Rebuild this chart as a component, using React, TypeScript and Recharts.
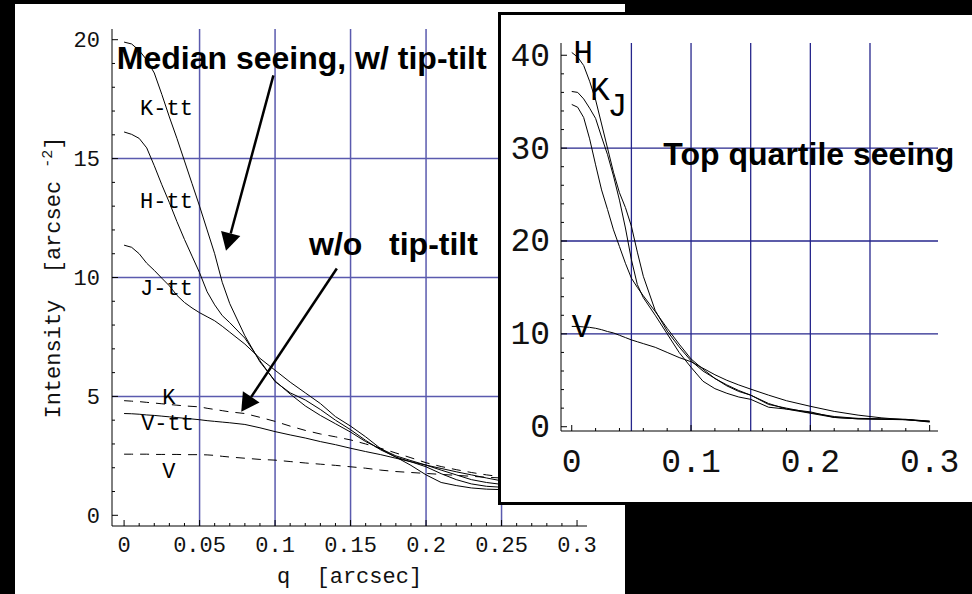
import React from "react";
import { LineChart, Line, XAxis, YAxis, ReferenceLine, ReferenceDot } from "recharts";

// ---- median seeing panel (left) ----
const qMed = [0, 0.005, 0.01, 0.015, 0.02, 0.025, 0.03, 0.035, 0.04, 0.045, 0.05, 0.055, 0.06, 0.065, 0.07, 0.08, 0.09, 0.1, 0.11, 0.12, 0.13, 0.14, 0.15, 0.16, 0.17, 0.18, 0.19, 0.2, 0.21, 0.22, 0.23, 0.24, 0.25, 0.27, 0.3];
const kTipTilt = [19.9, 19.82, 19.55, 19.15, 18.6, 17.7, 16.75, 15.85, 14.9, 13.95, 13.0, 12.0, 11.0, 9.8, 8.9, 7.55, 6.45, 5.65, 5.1, 4.6, 4.2, 3.85, 3.5, 3.1, 2.78, 2.45, 2.1, 1.7, 1.38, 1.25, 1.15, 1.1, 1.08, 1.0, 0.9];
const hTipTilt = [16.12, 16.02, 15.85, 15.45, 14.7, 13.9, 13.15, 12.35, 11.6, 10.9, 10.2, 9.4, 8.85, 8.4, 8.1, 7.45, 6.5, 5.62, 5.15, 4.85, 4.45, 4.0, 3.6, 3.15, 2.75, 2.45, 2.25, 2.04, 1.75, 1.5, 1.32, 1.22, 1.18, 1.1, 1.0];
const jTipTilt = [11.36, 11.27, 11.0, 10.6, 10.3, 9.97, 9.65, 9.25, 8.95, 8.72, 8.52, 8.35, 8.18, 7.95, 7.7, 7.2, 6.6, 6.1, 5.6, 5.15, 4.7, 4.15, 3.75, 3.3, 2.8, 2.5, 2.3, 2.11, 1.9, 1.7, 1.5, 1.38, 1.3, 1.2, 1.1];
const vTipTilt = [4.28, 4.27, 4.25, 4.22, 4.2, 4.17, 4.14, 4.11, 4.08, 4.05, 4.02, 3.98, 3.95, 3.92, 3.89, 3.82, 3.68, 3.52, 3.38, 3.25, 3.1, 2.97, 2.82, 2.68, 2.55, 2.4, 2.25, 2.11, 1.97, 1.83, 1.7, 1.57, 1.45, 1.3, 1.15];
const kNoTipTilt = [4.82, 4.8, 4.78, 4.75, 4.72, 4.69, 4.66, 4.63, 4.6, 4.58, 4.56, 4.5, 4.45, 4.4, 4.35, 4.28, 4.12, 3.95, 3.75, 3.57, 3.42, 3.3, 3.17, 3.0, 2.82, 2.62, 2.42, 2.21, 2.05, 1.92, 1.8, 1.7, 1.62, 1.5, 1.35];
const vNoTipTilt = [2.57, 2.57, 2.57, 2.57, 2.56, 2.56, 2.56, 2.56, 2.55, 2.55, 2.55, 2.54, 2.52, 2.48, 2.45, 2.4, 2.35, 2.32, 2.26, 2.2, 2.15, 2.1, 2.04, 1.98, 1.9, 1.84, 1.8, 1.76, 1.72, 1.68, 1.64, 1.6, 1.57, 1.5, 1.4];

const medXTicks = [0, 0.05, 0.1, 0.15, 0.2, 0.25, 0.3];
const medXMinor = [0, 0.01, 0.02, 0.03, 0.04, 0.05, 0.06, 0.07, 0.08, 0.09, 0.1, 0.11, 0.12, 0.13, 0.14, 0.15, 0.16, 0.17, 0.18, 0.19, 0.2, 0.21, 0.22, 0.23, 0.24, 0.25, 0.26, 0.27, 0.28, 0.29, 0.3];
const medYTicks = [0, 5, 10, 15, 20];
const medYMinor = [0, 1, 2, 3, 4, 5, 6, 7, 8, 9, 10, 11, 12, 13, 14, 15, 16, 17, 18, 19, 20];
const medGridX = [0.05, 0.1, 0.15, 0.2, 0.25];
const medGridY = [5, 10, 15];

// curve labels, anchored at [q, intensity]
const medTags = [
  { text: "K-tt", q: 0.0106, v: 16.82 },
  { text: "H-tt", q: 0.0106, v: 12.91 },
  { text: "J-tt", q: 0.0106, v: 9.26 },
  { text: "K", q: 0.0252, v: 4.66 },
  { text: "V-tt", q: 0.0113, v: 3.58 },
  { text: "V", q: 0.0252, v: 1.55 },
];

// ---- top quartile seeing panel (inset) ----
const qTop = [0, 0.005, 0.01, 0.015, 0.02, 0.025, 0.03, 0.035, 0.04, 0.045, 0.05, 0.055, 0.06, 0.07, 0.08, 0.09, 0.1, 0.11, 0.12, 0.13, 0.14, 0.15, 0.165, 0.18, 0.2, 0.22, 0.24, 0.26, 0.28, 0.3];
const hTop = [40.3, 39.8, 38.9, 37.2, 35.2, 32.6, 30.0, 27.4, 25.2, 23.6, 21.6, 18.8, 16.2, 12.5, 10.3, 8.6, 7.1, 6.0, 5.2, 4.5, 3.9, 3.4, 2.4, 2.0, 1.5, 1.1, 0.9, 0.85, 0.8, 0.6];
const kTop = [36.1, 36.0, 35.3, 34.3, 33.2, 31.2, 29.3, 27.0, 24.4, 21.4, 18.0, 15.3, 13.9, 12.0, 10.0, 8.0, 6.4, 4.9, 4.1, 3.6, 3.2, 2.95, 2.1, 1.9, 1.6, 1.0, 0.85, 0.82, 0.78, 0.5];
const jTop = [34.7, 34.4, 33.3, 31.0, 28.2, 25.5, 23.4, 21.2, 19.4, 17.6, 16.0, 15.0, 14.1, 12.4, 10.6, 8.9, 7.3, 6.2, 5.2, 4.4, 3.8, 3.4, 2.5, 1.9, 1.45, 1.0, 0.85, 0.8, 0.75, 0.55];
const vTop = [10.8, 10.8, 10.75, 10.7, 10.6, 10.45, 10.25, 10.1, 9.85, 9.6, 9.35, 9.15, 8.95, 8.55, 8.0, 7.45, 7.0, 6.3, 5.6, 5.0, 4.5, 4.05, 3.4, 2.8, 2.2, 1.65, 1.25, 0.95, 0.75, 0.6];

const topXLabels = [0, 0.1, 0.2, 0.3];
const topXMinor = [0, 0.02, 0.04, 0.06, 0.08, 0.1, 0.12, 0.14, 0.16, 0.18, 0.2, 0.22, 0.24, 0.26, 0.28, 0.3];
const topYTicks = [0, 10, 20, 30, 40];
const topYMinor = [0, 2, 4, 6, 8, 10, 12, 14, 16, 18, 20, 22, 24, 26, 28, 30, 32, 34, 36, 38, 40];
const topGridX = [0.05, 0.1, 0.15, 0.2, 0.25];
const topGridY = [10, 20, 30];

const topTags = [
  { text: "H", q: 0.0013, v: 39.2 },
  { text: "K", q: 0.0154, v: 35.2 },
  { text: "J", q: 0.0299, v: 33.5 },
  { text: "V", q: 0.0, v: 9.69 },
];

const MONO = "'Liberation Mono', 'Courier New', monospace";
const SANS = "'Liberation Sans', Arial, Helvetica, sans-serif";

const medRows = qMed.map((q, i) => ({
  q,
  ktt: kTipTilt[i],
  htt: hTipTilt[i],
  jtt: jTipTilt[i],
  vtt: vTipTilt[i],
  k: kNoTipTilt[i],
  v: vNoTipTilt[i],
}));

const topRows = qTop.map((q, i) => ({ q, h: hTop[i], k: kTop[i], j: jTop[i], v: vTop[i] }));

const near = (list: number[], v: number) => list.some((m) => Math.abs(m - v) < 1e-9);

// Mathematica-style frame ticks: drawn inward, labels outside
function BottomTick({ x, y, payload, majors, labels, size, dy }: any) {
  const v = payload.value;
  const len = near(majors, v) ? 6 : 3;
  return (
    <g>
      <line x1={x} y1={y} x2={x} y2={y - len} stroke="#000" strokeWidth={1} />
      {near(labels, v) && (
        <text x={x} y={y + dy} textAnchor="middle" fontFamily={MONO} fontSize={size} fill="#111">
          {String(v)}
        </text>
      )}
    </g>
  );
}

function TopTick({ x, y, payload, majors }: any) {
  const len = near(majors, payload.value) ? 6 : 3;
  return <line x1={x} y1={y} x2={x} y2={y + len} stroke="#000" strokeWidth={1} />;
}

function LeftTick({ x, y, payload, majors, labels, size, gap, dy }: any) {
  const v = payload.value;
  const len = near(majors, v) ? 6 : 3;
  return (
    <g>
      <line x1={x} y1={y} x2={x + len} y2={y} stroke="#000" strokeWidth={1} />
      {near(labels, v) && (
        <text x={x - gap} y={y + dy} textAnchor="end" fontFamily={MONO} fontSize={size} fill="#111">
          {String(v)}
        </text>
      )}
    </g>
  );
}

function RightTick({ x, y, payload, majors }: any) {
  const len = near(majors, payload.value) ? 6 : 3;
  return <line x1={x} y1={y} x2={x - len} y2={y} stroke="#000" strokeWidth={1} />;
}

const tagContent = (text: string, size: number, family: string, weight = "normal") => (props: any) => {
  const vb = props.viewBox || {};
  return (
    <text
      x={vb.x}
      y={vb.y}
      fontSize={size}
      fontFamily={family}
      fontWeight={weight}
      fill="#000"
      style={{ whiteSpace: "pre" }}
    >
      {text}
    </text>
  );
};

const ArrowShape = (p: any) => {
  const { x1, y1, x2, y2 } = p;
  const ang = Math.atan2(y2 - y1, x2 - x1);
  const len = 18;
  const half = 10;
  const bx = x2 - len * Math.cos(ang);
  const by = y2 - len * Math.sin(ang);
  const nx = -Math.sin(ang);
  const ny = Math.cos(ang);
  return (
    <g>
      <line x1={x1} y1={y1} x2={bx} y2={by} stroke="#000" strokeWidth={2.5} />
      <polygon
        points={`${x2},${y2} ${bx + nx * half},${by + ny * half} ${bx - nx * half},${by - ny * half}`}
        fill="#000"
      />
    </g>
  );
};

const medXDomain = [-0.008, 0.3066];
const medYDomain = [-0.45, 20.45];
const topXDomain = [-0.009, 0.307];
const topYDomain = [-0.46, 41.32];

function MedianPanel() {
  return (
    <LineChart width={620} height={594} data={medRows} margin={{ top: 29, right: 33, bottom: 0, left: 42 }}>
      <XAxis
        dataKey="q"
        type="number"
        domain={medXDomain}
        allowDataOverflow
        ticks={medXMinor}
        interval={0}
        height={68}
        tickSize={0}
        tickMargin={0}
        tickLine={false}
        axisLine={{ stroke: "#000" }}
        tick={<BottomTick majors={medXTicks} labels={medXTicks} size={22} dy={25.5} />}
        label={{
          content: (props: any) => {
            const vb = props.viewBox;
            return (
              <text
                x={vb.x + vb.width / 2}
                y={vb.y + 57}
                textAnchor="middle"
                fontFamily={MONO}
                fontSize={22}
                fill="#111"
                style={{ whiteSpace: "pre" }}
              >
                q  [arcsec]
              </text>
            );
          },
        }}
      />
      <XAxis
        xAxisId="top"
        orientation="top"
        type="number"
        domain={medXDomain}
        allowDataOverflow
        ticks={medXMinor}
        interval={0}
        height={0}
        tickSize={0}
        tickMargin={0}
        tickLine={false}
        axisLine={{ stroke: "#000" }}
        tick={<TopTick majors={medXTicks} />}
      />
      <YAxis
        type="number"
        domain={medYDomain}
        allowDataOverflow
        ticks={medYMinor}
        interval={0}
        width={70}
        tickSize={0}
        tickMargin={0}
        tickLine={false}
        axisLine={{ stroke: "#000" }}
        tick={<LeftTick majors={medYTicks} labels={medYTicks} size={22} gap={12} dy={7.5} />}
        label={{
          content: (props: any) => {
            const vb = props.viewBox;
            const cx = vb.x + 18;
            const cy = vb.y + vb.height / 2;
            return (
              <text
                transform={`translate(${cx},${cy}) rotate(-90)`}
                textAnchor="middle"
                fontFamily={MONO}
                fontSize={22}
                fill="#111"
                style={{ whiteSpace: "pre" }}
              >
                Intensity  [arcsec <tspan dy={-8} fontSize={15}>-2</tspan>
                <tspan dy={8}>]</tspan>
              </text>
            );
          },
        }}
      />
      <YAxis
        yAxisId="right"
        orientation="right"
        type="number"
        domain={medYDomain}
        allowDataOverflow
        ticks={medYMinor}
        interval={0}
        width={0}
        tickSize={0}
        tickMargin={0}
        tickLine={false}
        axisLine={{ stroke: "#000" }}
        tick={<RightTick majors={medYTicks} />}
      />

      {medGridX.map((g) => (
        <ReferenceLine key={`gx${g}`} x={g} stroke="#5a5aae" strokeWidth={1.5} />
      ))}
      {medGridY.map((g) => (
        <ReferenceLine key={`gy${g}`} y={g} stroke="#5a5aae" strokeWidth={1.5} />
      ))}

      <Line dataKey="ktt" stroke="#000" strokeWidth={1} dot={false} isAnimationActive={false} />
      <Line dataKey="htt" stroke="#000" strokeWidth={1} dot={false} isAnimationActive={false} />
      <Line dataKey="jtt" stroke="#000" strokeWidth={1} dot={false} isAnimationActive={false} />
      <Line dataKey="vtt" stroke="#000" strokeWidth={1} dot={false} isAnimationActive={false} />
      <Line dataKey="k" stroke="#000" strokeWidth={1} strokeDasharray="9 7" dot={false} isAnimationActive={false} />
      <Line dataKey="v" stroke="#000" strokeWidth={1} strokeDasharray="9 7" dot={false} isAnimationActive={false} />

      {medTags.map((t) => (
        <ReferenceDot key={t.text} x={t.q} y={t.v} r={0} fill="none" stroke="none" label={tagContent(t.text, 22, MONO)} />
      ))}
      <ReferenceDot x={-0.0048} y={18.78} r={0} fill="none" stroke="none" label={tagContent("Median seeing, w/ tip-tilt", 32, SANS, "bold")} />
      <ReferenceDot x={0.1225} y={10.94} r={0} fill="none" stroke="none" label={tagContent("w/o   tip-tilt", 32, SANS, "bold")} />
      <ReferenceLine segment={[{ x: 0.0989, y: 18.5 }, { x: 0.0675, y: 11.12 }]} shape={ArrowShape} />
      <ReferenceLine segment={[{ x: 0.1409, y: 10.38 }, { x: 0.0776, y: 4.35 }]} shape={ArrowShape} />
    </LineChart>
  );
}

function TopQuartilePanel() {
  return (
    <LineChart width={471} height={487} data={topRows} margin={{ top: 28, right: 34, bottom: 0, left: 6 }}>
      <XAxis
        dataKey="q"
        type="number"
        domain={topXDomain}
        allowDataOverflow
        ticks={topXMinor}
        interval={0}
        height={71}
        tickSize={0}
        tickMargin={0}
        tickLine={false}
        axisLine={{ stroke: "#000" }}
        tick={<BottomTick majors={topXLabels} labels={topXLabels} size={33} dy={41} />}
      />
      <XAxis
        xAxisId="top"
        orientation="top"
        type="number"
        domain={topXDomain}
        allowDataOverflow
        ticks={topXMinor}
        interval={0}
        height={0}
        tickSize={0}
        tickMargin={0}
        tickLine={false}
        axisLine={{ stroke: "#000" }}
        tick={<TopTick majors={topXLabels} />}
      />
      <YAxis
        type="number"
        domain={topYDomain}
        allowDataOverflow
        ticks={topYMinor}
        interval={0}
        width={54}
        tickSize={0}
        tickMargin={0}
        tickLine={false}
        axisLine={{ stroke: "#000" }}
        tick={<LeftTick majors={topYTicks} labels={topYTicks} size={33} gap={11} dy={10.5} />}
      />
      <YAxis
        yAxisId="right"
        orientation="right"
        type="number"
        domain={topYDomain}
        allowDataOverflow
        ticks={topYMinor}
        interval={0}
        width={0}
        tickSize={0}
        tickMargin={0}
        tickLine={false}
        axisLine={{ stroke: "#000" }}
        tick={<RightTick majors={topYTicks} />}
      />

      {topGridX.map((g) => (
        <ReferenceLine key={`gx${g}`} x={g} stroke="#26268c" strokeWidth={1.3} />
      ))}
      {topGridY.map((g) => (
        <ReferenceLine key={`gy${g}`} y={g} stroke="#26268c" strokeWidth={1.3} />
      ))}

      <Line dataKey="h" stroke="#000" strokeWidth={1} dot={false} isAnimationActive={false} />
      <Line dataKey="k" stroke="#000" strokeWidth={1} dot={false} isAnimationActive={false} />
      <Line dataKey="j" stroke="#000" strokeWidth={1} dot={false} isAnimationActive={false} />
      <Line dataKey="v" stroke="#000" strokeWidth={1} dot={false} isAnimationActive={false} />

      {topTags.map((t) => (
        <ReferenceDot key={t.text} x={t.q} y={t.v} r={0} fill="none" stroke="none" label={tagContent(t.text, 33, MONO)} />
      ))}
      <ReferenceDot x={0.0768} y={28.17} r={0} fill="none" stroke="none" label={tagContent("Top quartile seeing", 32, SANS, "bold")} />
    </LineChart>
  );
}

export default function App() {
  return (
    <div style={{ position: "absolute", left: 0, top: 0, width: 972, height: 594, background: "#000", overflow: "hidden" }}>
      <div style={{ position: "absolute", left: 15, top: 4, width: 610, height: 590, background: "#fff" }} />
      <div style={{ position: "absolute", left: 0, top: 0 }}>
        <MedianPanel />
      </div>
      <div
        style={{
          position: "absolute",
          left: 498,
          top: 12,
          width: 480,
          height: 493,
          boxSizing: "border-box",
          border: "3px solid #000",
          background: "#fff",
        }}
      >
        <div style={{ position: "absolute", left: 0, top: 0 }}>
          <TopQuartilePanel />
        </div>
      </div>
    </div>
  );
}
